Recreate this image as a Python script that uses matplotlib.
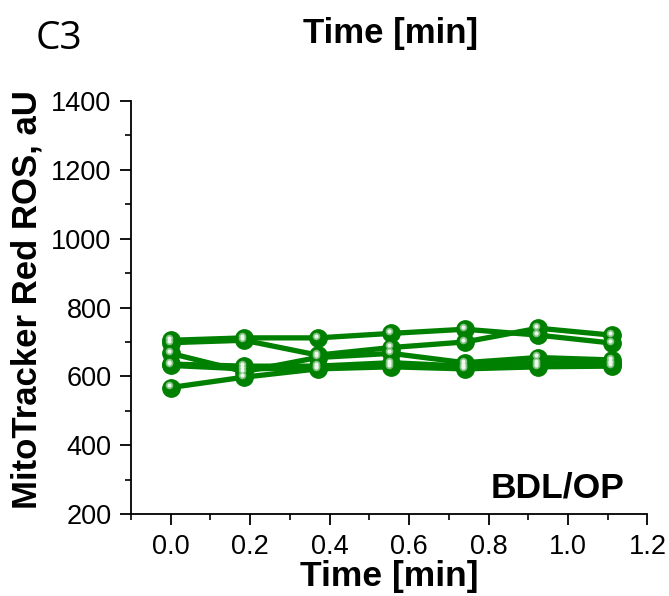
import matplotlib
matplotlib.use("Agg")
import matplotlib.pyplot as plt
import matplotlib.transforms as mtransforms
from matplotlib.ticker import MultipleLocator, FormatStrFormatter

plt.rcParams["font.family"] = ["Liberation Sans", "DejaVu Sans"]

# time points (min) and MitoTracker Red signal per cell trace
time_min = [0.0, 0.185, 0.37, 0.555, 0.74, 0.925, 1.11]
trace_1 = [705, 712, 712, 725, 737, 720, 697]
trace_2 = [698, 705, 662, 684, 700, 740, 720]
trace_3 = [667, 614, 655, 667, 640, 655, 648]
trace_4 = [636, 630, 630, 640, 630, 640, 640]
trace_5 = [632, 622, 625, 632, 625, 632, 635]
trace_6 = [568, 598, 622, 628, 622, 628, 630]
traces = [trace_1, trace_2, trace_3, trace_4, trace_5, trace_6]

green = "#008000"

fig = plt.figure(figsize=(6.69, 5.96), dpi=100)
ax = fig.add_axes([0.1958, 0.137, 0.772, 0.694])

# shiny ball markers: solid disc plus a pale highlight nudged up-left
shine = mtransforms.offset_copy(ax.transData, fig=fig, x=-1.5, y=1.5, units="points")
for trace in traces:
    ax.plot(time_min, trace, color=green, lw=3.8, marker="o", ms=12.5,
            mfc=green, mec=green, zorder=3)
for trace in traces:
    ax.plot(time_min, trace, ls="none", marker="o", ms=5.5, mfc="#7fbf7f",
            mec="none", transform=shine, zorder=4)
    ax.plot(time_min, trace, ls="none", marker="o", ms=3, mfc="#eef9ee",
            mec="none", transform=shine, zorder=5)

ax.set_xlim(-0.1, 1.2)
ax.set_ylim(200, 1400)
ax.xaxis.set_major_locator(MultipleLocator(0.2))
ax.xaxis.set_minor_locator(MultipleLocator(0.1))
ax.yaxis.set_major_locator(MultipleLocator(200))
ax.yaxis.set_minor_locator(MultipleLocator(100))
ax.xaxis.set_major_formatter(FormatStrFormatter("%.1f"))

for side in ("top", "right"):
    ax.spines[side].set_visible(False)
for side in ("left", "bottom"):
    ax.spines[side].set_linewidth(1.3)

ax.tick_params(which="major", direction="out", length=8, width=1.3,
               labelsize=19.5, pad=6)
ax.tick_params(which="minor", direction="out", length=4.5, width=1.2)

ax.set_xlabel("Time [min]", fontsize=25.5, fontweight="bold", labelpad=0)
ax.set_ylabel("MitoTracker Red ROS, aU", fontsize=25, fontweight="bold")
ax.yaxis.set_label_coords(-0.17, 0.52)

ax.text(0.955, 0.025, "BDL/OP", transform=ax.transAxes, ha="right", va="bottom",
        fontsize=25.5, fontweight="bold")

fig.text(0.584, 0.943, "Time [min]", ha="center", va="center",
         fontsize=25, fontweight="bold")
fig.text(0.088, 0.935, "C3", ha="center", va="center", fontsize=28,
         family=["Open Sans", "DejaVu Sans"])

fig.savefig("out.png", dpi=100)
